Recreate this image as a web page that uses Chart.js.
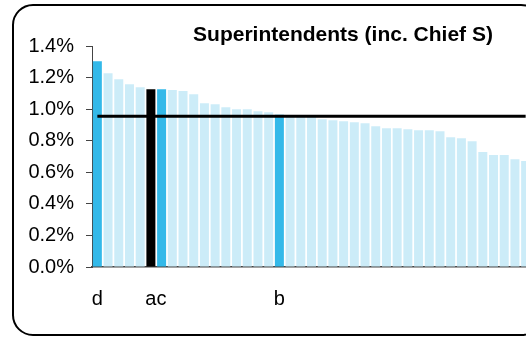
<!DOCTYPE html>
<html>
<head>
<meta charset="utf-8">
<script src="https://cdn.jsdelivr.net/npm/chart.js@4"></script>
<style>
  html, body { margin: 0; padding: 0; background: #fff; width: 526px; height: 337px; overflow: hidden; }
  #wrap { position: relative; width: 560px; height: 337px; }
  #frame {
    position: absolute; left: 12px; top: 4px; width: 530px; height: 332px;
    box-sizing: border-box; border: 2px solid #000; border-radius: 21px;
    pointer-events: none;
  }
  canvas { position: absolute; left: 0; top: 0; }
</style>
</head>
<body>
<div id="wrap">
  <div id="frame"></div>
  <canvas id="chart" width="560" height="337"></canvas>
</div>
<script>
// Superintendent share by force, sorted high to low (percent)
const shareValues = [
  1.303, 1.227, 1.189, 1.158, 1.139, 1.126, 1.126, 1.122, 1.115, 1.094,
  1.037, 1.031, 1.012, 1.000, 1.000, 0.987, 0.981, 0.965, 0.962, 0.960,
  0.957, 0.936, 0.930, 0.924, 0.917, 0.911, 0.892, 0.879, 0.879, 0.873,
  0.867, 0.867, 0.860, 0.822, 0.816, 0.797, 0.728, 0.709, 0.709, 0.683,
  0.671
];
// Only the named forces carry a label
const forceLabels = [
  'd', '', '', '', '', 'a', 'c', '', '', '',
  '', '', '', '', '', '', '', 'b', '', '',
  '', '', '', '', '', '', '', '', '', '',
  '', '', '', '', '', '', '', '', '', '',
  ''
];
const averageShare = 0.955;
const yTicks = [0, 0.2, 0.4, 0.6, 0.8, 1.0, 1.2, 1.4];
const titleText = 'Superintendents (inc. Chief S)';

const blackForces = ['a'];
const blueForces = ['b', 'c', 'd'];
const barColors = forceLabels.map(l =>
  blackForces.includes(l) ? '#000000' :
  blueForces.includes(l) ? '#33B9E9' : '#CCECF8');

Chart.defaults.font.family = '"Liberation Sans", Arial, sans-serif';
Chart.defaults.font.size = 20;
Chart.defaults.color = '#000';

const titlePlugin = {
  id: 'boxTitle',
  afterDraw(chart) {
    const ctx = chart.ctx;
    ctx.save();
    ctx.font = 'bold 21px "Liberation Sans", Arial, sans-serif';
    ctx.fillStyle = '#000';
    ctx.textAlign = 'center';
    ctx.textBaseline = 'alphabetic';
    ctx.fillText(titleText, 343, 41);
    ctx.restore();
  }
};

new Chart(document.getElementById('chart'), {
  data: {
    labels: forceLabels,
    datasets: [
      {
        type: 'line',
        data: forceLabels.map(() => averageShare),
        borderColor: '#000',
        borderWidth: 3,
        pointRadius: 0,
        fill: false,
        order: 0
      },
      {
        type: 'bar',
        data: shareValues,
        backgroundColor: barColors,
        borderWidth: 0,
        categoryPercentage: 1.0,
        barPercentage: 0.84,
        order: 1
      }
    ]
  },
  options: {
    responsive: false,
    animation: false,
    layout: { padding: { left: 0, right: 29, top: 46, bottom: 0 } },
    plugins: { legend: { display: false }, tooltip: { enabled: false } },
    scales: {
      x: {
        grid: { display: false, drawTicks: false },
        border: { display: true, color: '#444', width: 1.5 },
        ticks: { autoSkip: false, maxRotation: 0, padding: 20, font: { size: 20 } },
        afterFit(scale) { scale.height = 70; }
      },
      y: {
        min: 0,
        max: 1.4,
        afterBuildTicks(scale) { scale.ticks = yTicks.map(v => ({ value: v })); },
        grid: { drawOnChartArea: false, drawTicks: true, tickLength: 6, color: '#444' },
        border: { display: true, color: '#444', width: 1 },
        ticks: {
          padding: 12,
          font: { size: 20 },
          callback: v => v.toFixed(1) + '%'
        },
        afterFit(scale) { scale.width = 92; }
      }
    }
  },
  plugins: [titlePlugin]
});
</script>
</body>
</html>
